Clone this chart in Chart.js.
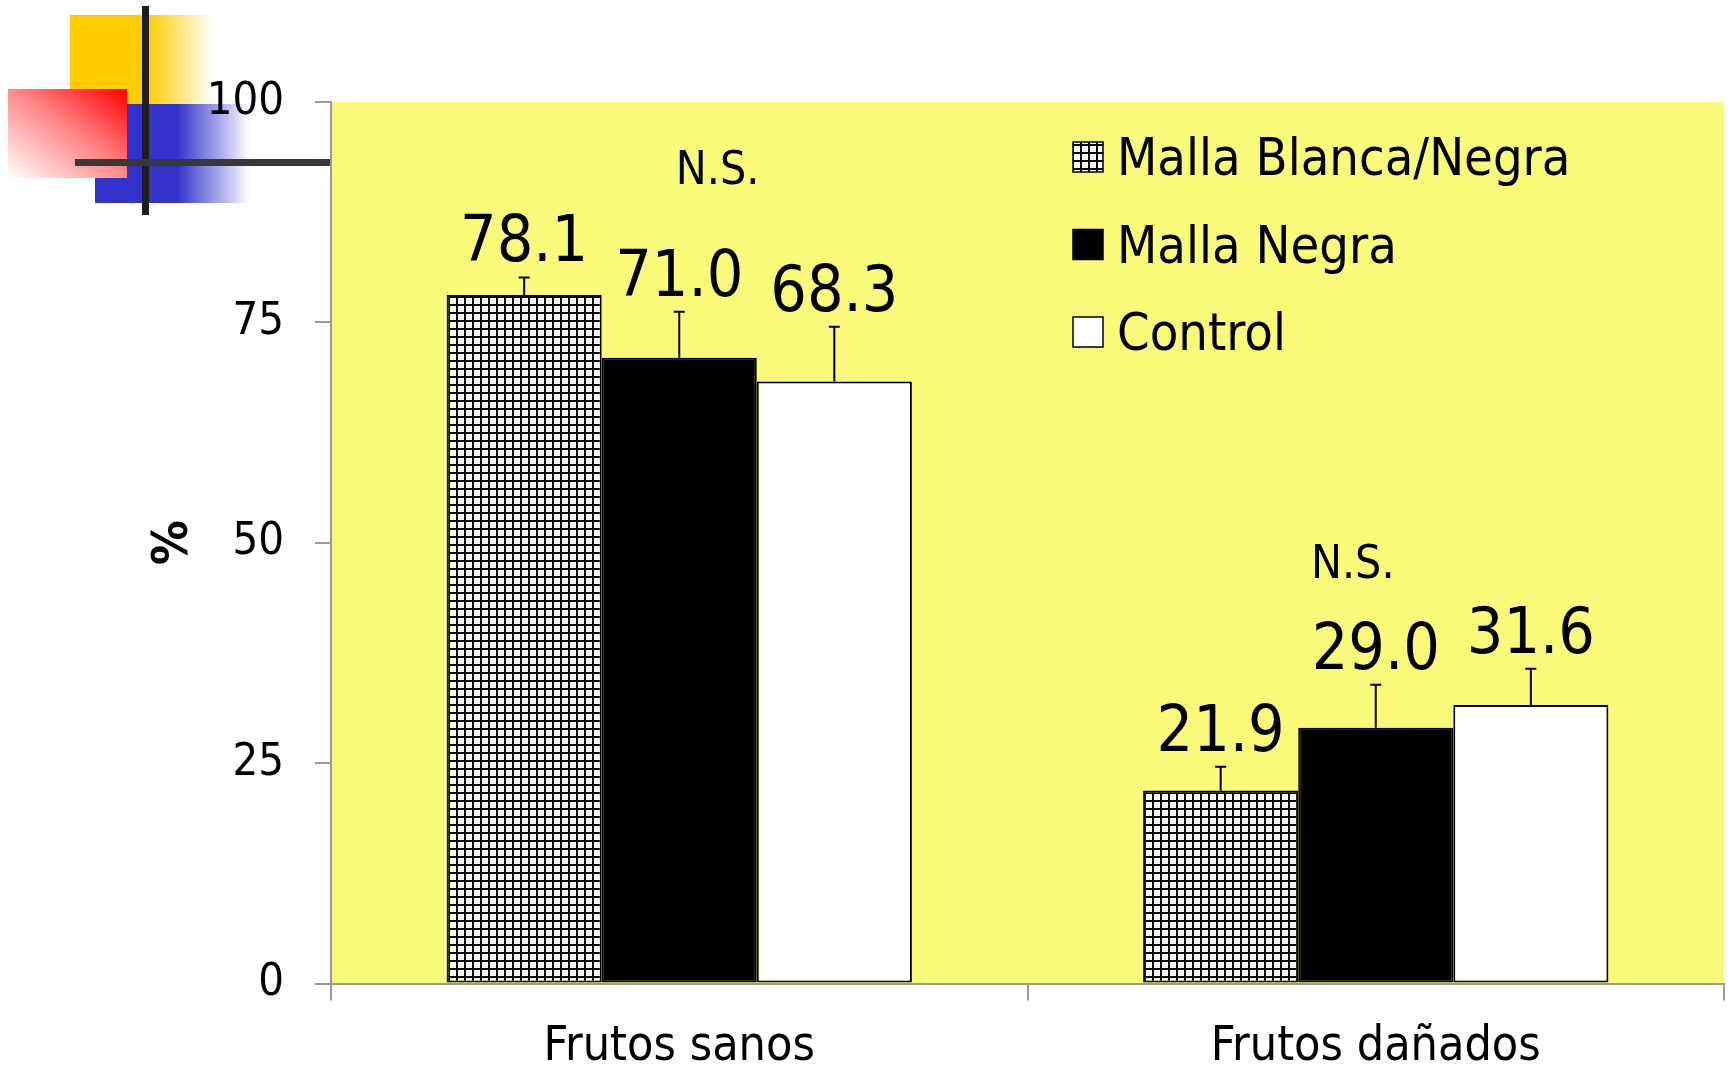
<!DOCTYPE html>
<html>
<head>
<meta charset="utf-8">
<script src="https://cdn.jsdelivr.net/npm/chart.js@4.4.1/dist/chart.umd.min.js"></script>
<style>
  html, body { margin: 0; padding: 0; background: #fff; }
  #wrap { position: relative; width: 1730px; height: 1081px; overflow: hidden; }
  .deco { position: absolute; }
  #sq-yellow { left: 70px; top: 15px; width: 143px; height: 89px;
    background: linear-gradient(to right, #ffcc00 0%, #ffcc00 54%, rgba(255,204,0,0) 100%); }
  #sq-blue { left: 95px; top: 104px; width: 155px; height: 99px;
    background: linear-gradient(to right, #3333cc 0%, #3333cc 53%, rgba(51,51,204,0) 100%); }
  #sq-red { left: 8px; top: 89px; width: 119px; height: 89px;
    background: linear-gradient(to bottom left, #ff0000 0%, #ff8080 45%, #ffffff 100%); }
  #line-v { left: 142px; top: 6px; width: 7px; height: 209px; background: #1e1e1e; }
  #line-h { left: 75px; top: 159px; width: 255px; height: 7px; background: #383838; }
  #c { position: absolute; left: 0; top: 0; }
</style>
</head>
<body>
<div id="wrap">
  <div class="deco" id="sq-yellow"></div>
  <div class="deco" id="sq-blue"></div>
  <div class="deco" id="sq-red"></div>
  <div class="deco" id="line-v"></div>
  <div class="deco" id="line-h"></div>
  <canvas id="c" width="1730" height="1081"></canvas>
</div>
<script>
(function () {
  // Data
  const categories = ['Frutos sanos', 'Frutos dañados'];
  const seriesNames = ['Malla Blanca/Negra', 'Malla Negra', 'Control'];
  const mallaBlancaNegra = [78.1, 21.9];
  const mallaNegra = [71.0, 29.0];
  const control = [68.3, 31.6];
  // upper error bars
  const errBlancaNegra = [2.0, 2.7];
  const errNegra = [5.2, 4.9];
  const errControl = [6.2, 4.1];
  const yTicks = [0, 25, 50, 75, 100];
  // significance notes: category position and value where the text sits
  const notes = ['N.S.', 'N.S.'];
  const noteCat = [0.055, 0.967];
  const noteValue = [90.7, 46.0];

  const FONT = '"DejaVu Sans Condensed", "DejaVu Sans", sans-serif';
  Chart.defaults.font.family = FONT;
  Chart.defaults.color = '#000';

  // white/black grid hatch for the first series
  const pc = document.createElement('canvas');
  pc.width = 8; pc.height = 8;
  const p = pc.getContext('2d');
  p.fillStyle = '#fff'; p.fillRect(0, 0, 8, 8);
  p.fillStyle = '#000'; p.fillRect(0, 0, 8, 2); p.fillRect(0, 0, 2, 8);
  const hatch = p.createPattern(pc, 'repeat');

  const fills = [hatch, '#000', '#fff'];
  const values = [mallaBlancaNegra, mallaNegra, control];
  const errors = [errBlancaNegra, errNegra, errControl];

  const plotBg = {
    id: 'plotBg',
    beforeDraw(chart) {
      const { ctx, chartArea: a } = chart;
      ctx.save();
      ctx.fillStyle = 'rgb(250,250,122)';
      ctx.fillRect(a.left, a.top, a.right - a.left, a.bottom - a.top);
      ctx.restore();
    }
  };

  const extras = {
    id: 'extras',
    afterDatasetsDraw(chart) {
      const { ctx, chartArea: a } = chart;
      const y = chart.scales.y, x = chart.scales.x;
      ctx.save();
      chart.data.datasets.forEach((ds, i) => {
        chart.getDatasetMeta(i).data.forEach((bar, j) => {
          const top = y.getPixelForValue(ds.data[j] + ds.errors[j]);
          ctx.strokeStyle = '#000';
          ctx.lineWidth = 2;
          ctx.beginPath();
          ctx.moveTo(bar.x, bar.y);
          ctx.lineTo(bar.x, top);
          ctx.moveTo(bar.x - 5.5, top);
          ctx.lineTo(bar.x + 5.5, top);
          ctx.stroke();
          ctx.fillStyle = '#000';
          ctx.font = '64px ' + FONT;
          ctx.textAlign = 'center';
          ctx.textBaseline = 'alphabetic';
          ctx.fillText(ds.data[j].toFixed(1), bar.x, top - 16);
        });
      });

      // N.S. notes
      ctx.font = '46px ' + FONT;
      ctx.textAlign = 'center';
      notes.forEach((t, k) => {
        ctx.fillText(t, x.getPixelForValue(noteCat[k]), y.getPixelForValue(noteValue[k]));
      });

      // legend inside the plot area
      const bx = a.left + 742, by = a.top + 40, step = 87.5, bs = 30;
      chart.data.datasets.forEach((ds, i) => {
        const ty = by + i * step;
        ctx.fillStyle = ds.backgroundColor;
        ctx.fillRect(bx, ty, bs, bs);
        ctx.strokeStyle = '#000';
        ctx.lineWidth = 1.5;
        ctx.strokeRect(bx, ty, bs, bs);
        ctx.fillStyle = '#000';
        ctx.font = '52px ' + FONT;
        ctx.textAlign = 'left';
        ctx.textBaseline = 'alphabetic';
        ctx.fillText(ds.label, bx + 44, ty + 33);
      });
      ctx.restore();
    }
  };

  new Chart(document.getElementById('c').getContext('2d'), {
    type: 'bar',
    data: {
      labels: categories,
      datasets: seriesNames.map((name, i) => ({
        label: name,
        data: values[i],
        errors: errors[i],
        backgroundColor: fills[i],
        borderColor: '#000',
        borderWidth: 2,
        borderSkipped: false,
        categoryPercentage: 0.668,
        barPercentage: 1.0
      }))
    },
    options: {
      responsive: false,
      animation: false,
      devicePixelRatio: 1,
      layout: { padding: { top: 102, right: 6, left: 0, bottom: 0 } },
      plugins: { legend: { display: false }, tooltip: { enabled: false } },
      scales: {
        x: {
          offset: true,
          grid: { offset: true, drawOnChartArea: false, tickLength: 17, color: '#9a9a9a', lineWidth: 2 },
          border: { color: '#9a9a9a', width: 2 },
          ticks: { color: '#000', font: { size: 48 }, padding: 18 },
          afterFit: s => { s.height = 97.5; }
        },
        y: {
          min: 0,
          max: 100,
          afterBuildTicks: s => { s.ticks = yTicks.map(v => ({ value: v })); },
          grid: { drawOnChartArea: false, tickLength: 16, color: '#9a9a9a', lineWidth: 2 },
          border: { color: '#9a9a9a', width: 2 },
          ticks: { color: '#000', font: { size: 45 }, padding: 31 },
          title: { display: true, text: '%', color: '#000', font: { size: 50, weight: 'bold' }, padding: { top: 144, bottom: 0 } },
          afterFit: s => { s.width = 331; }
        }
      }
    },
    plugins: [plotBg, extras]
  });
})();
</script>
</body>
</html>
